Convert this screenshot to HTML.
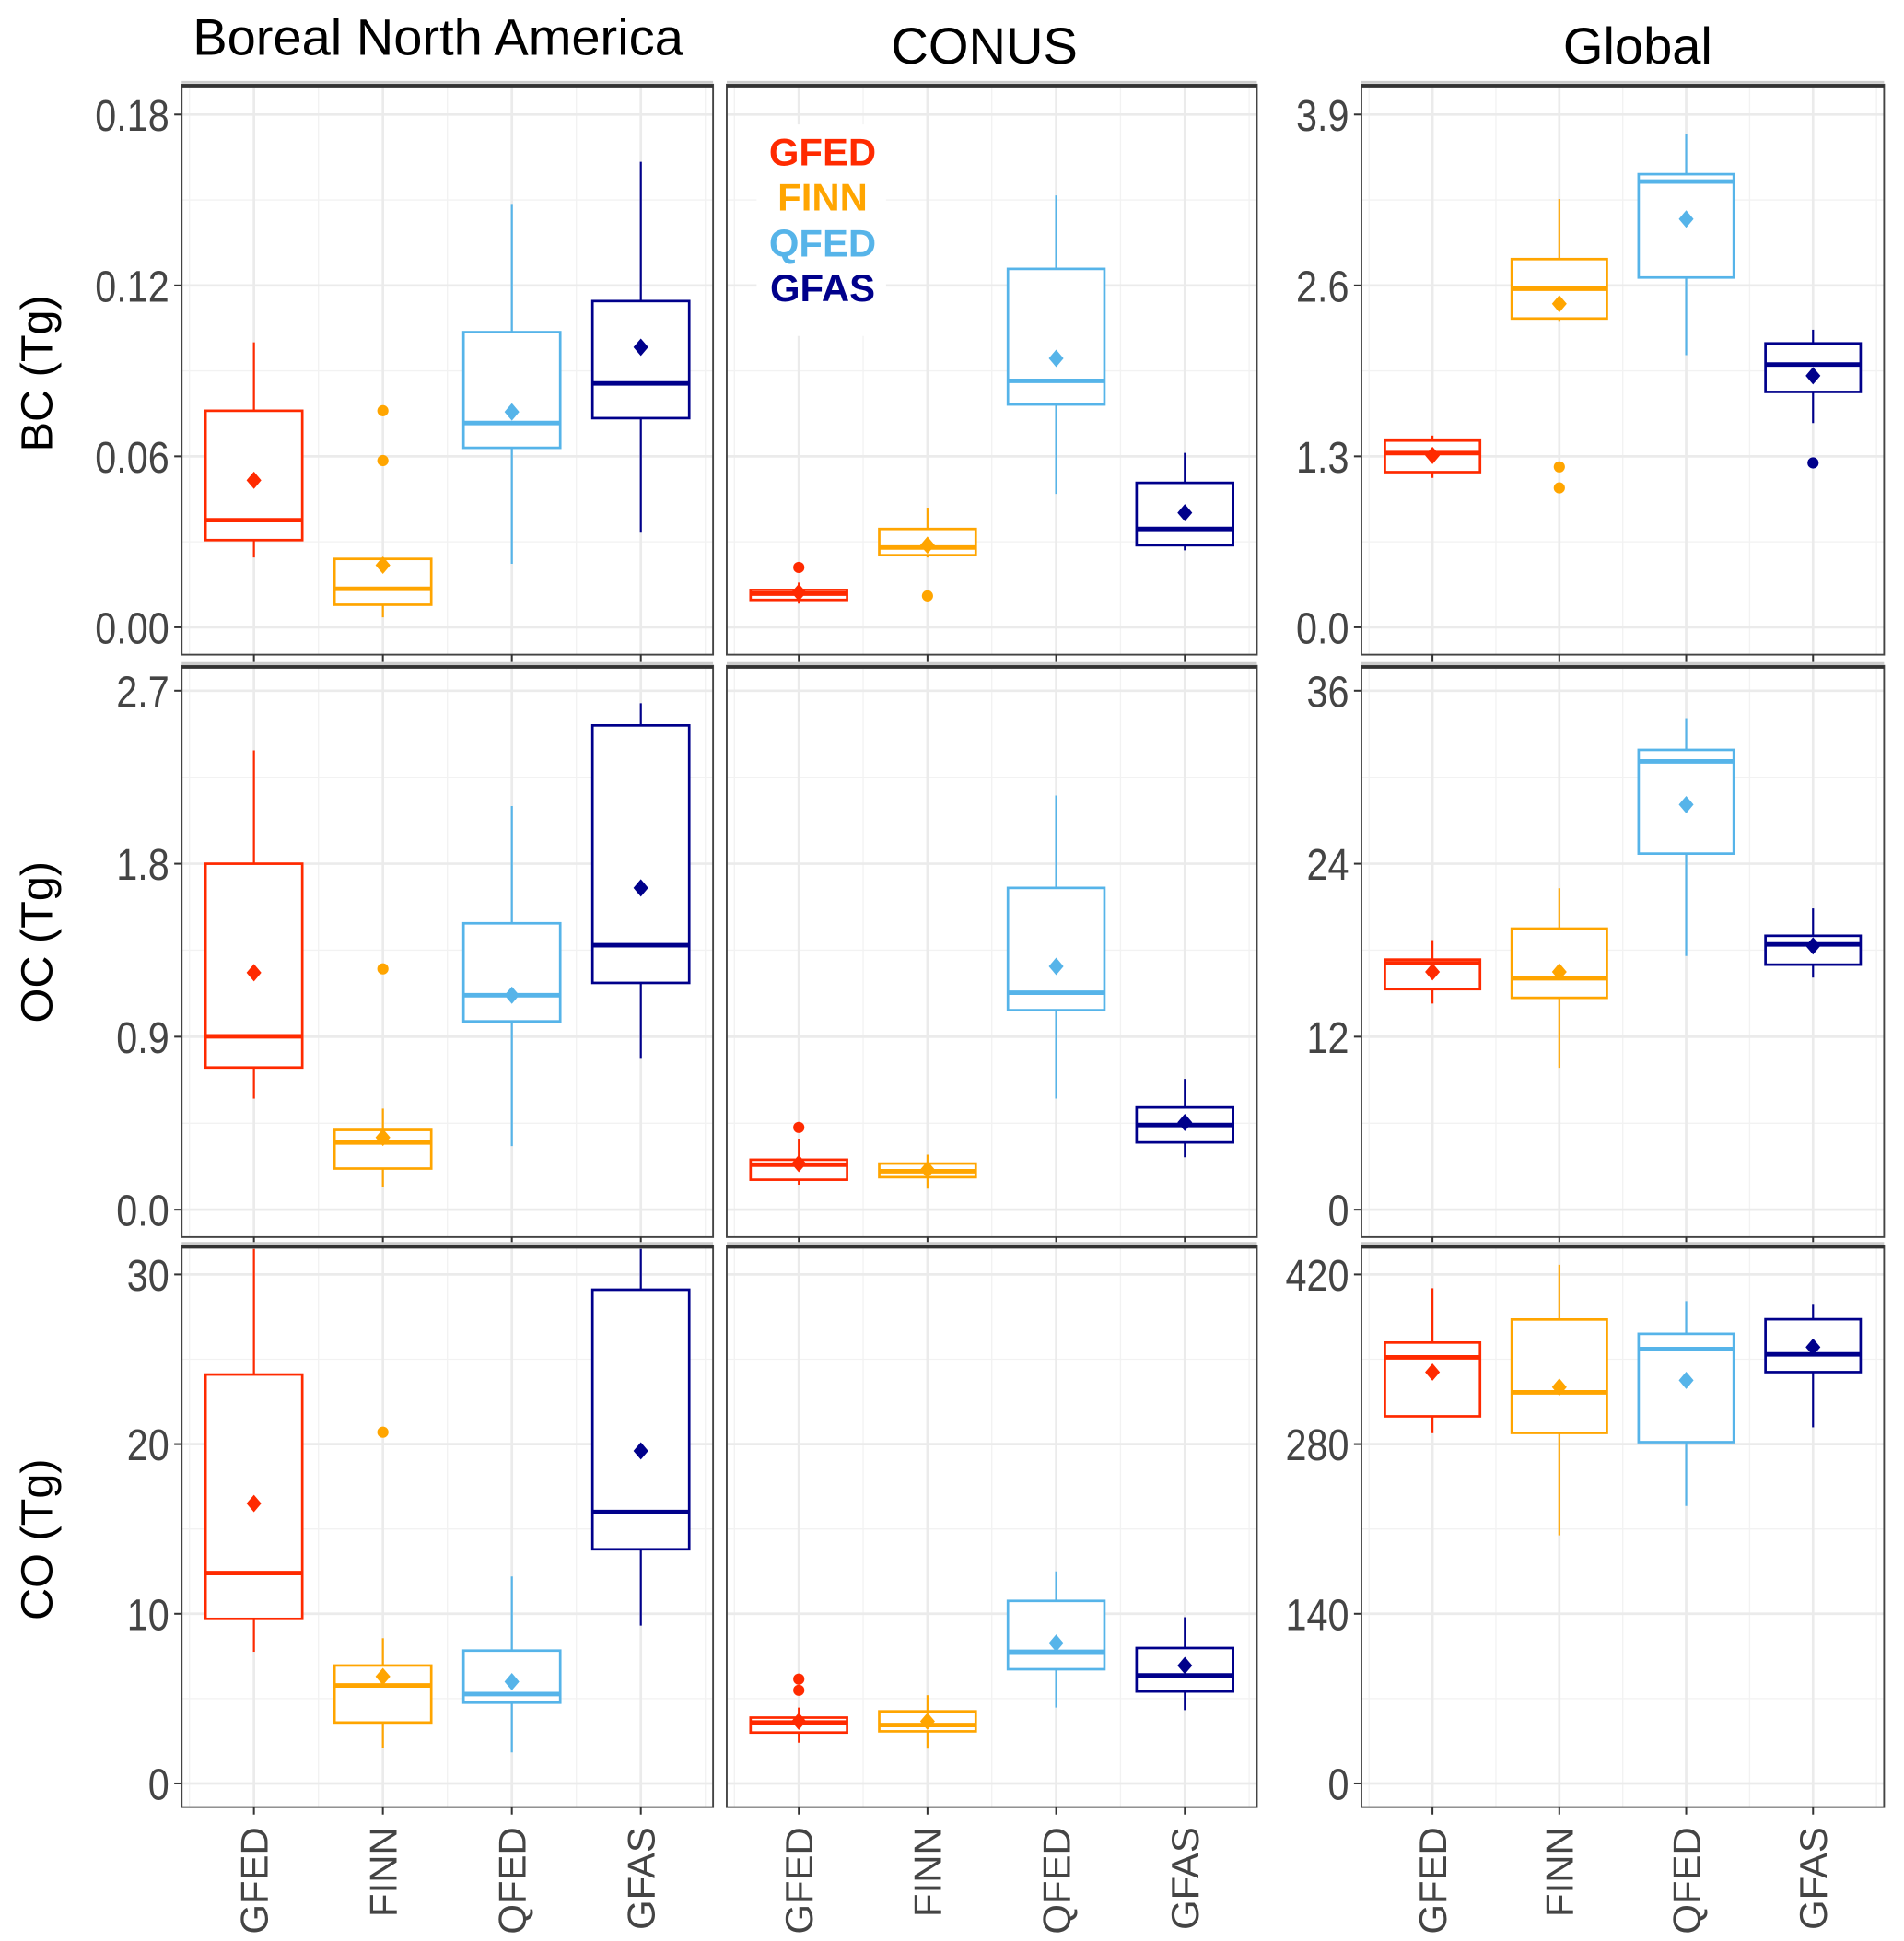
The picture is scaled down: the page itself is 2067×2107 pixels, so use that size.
<!DOCTYPE html>
<html><head><meta charset="utf-8"><style>
html,body{margin:0;padding:0;background:#fff;}
svg{display:block;}
text{font-family:"Liberation Sans",Arial,sans-serif;}
</style></head>
<body>
<svg id="chart" xmlns="http://www.w3.org/2000/svg" width="2067" height="2107" viewBox="0 0 1530 1559.6" preserveAspectRatio="none">
<text x="352" y="44" font-size="41.5" text-anchor="middle" fill="#000">Boreal North America</text>
<text x="791" y="51" font-size="41.5" text-anchor="middle" fill="#000">CONUS</text>
<text x="1316" y="51" font-size="41.5" text-anchor="middle" fill="#000">Global</text>
<text transform="translate(42,300) rotate(-90)" font-size="36" text-anchor="middle" fill="#000">BC (Tg)</text>
<text transform="translate(42,757) rotate(-90)" font-size="36" text-anchor="middle" fill="#000">OC (Tg)</text>
<text transform="translate(42,1237) rotate(-90)" font-size="36" text-anchor="middle" fill="#000">CO (Tg)</text>
</svg>
<script>
// categories & colors
const categories = ["GFED","FINN","QFED","GFAS"];
const colors = ["#ff2a00","#ffa500","#56b4e9","#00008b"];
// each stat row: [whiskerLow, q1, median, q3, whiskerHigh, mean]
const bcBna = [[0.0245,0.0306,0.0376,0.076,0.100,0.0516],[0.0035,0.0079,0.0135,0.024,0.0245,0.0218],[0.0223,0.063,0.0717,0.1036,0.1486,0.0756],[0.0332,0.0734,0.0856,0.1145,0.1634,0.0983]];
const bcBnaOut = [[],[0.076,0.0585],[],[]];
const bcConus = [[0.0083,0.0096,0.0118,0.0131,0.0157,0.0122],[0.0245,0.0253,0.028,0.0345,0.042,0.0288],[0.0468,0.0782,0.0865,0.1258,0.1516,0.0944],[0.027,0.0288,0.0345,0.0507,0.0612,0.0402]];
const bcConusOut = [[0.021],[0.011],[],[]];
const bcGlobal = [[1.136,1.18,1.325,1.42,1.458,1.307],[2.33,2.348,2.575,2.80,3.257,2.46],[2.07,2.66,3.39,3.446,3.75,3.105],[1.553,1.79,1.998,2.159,2.263,1.913]];
const bcGlobalOut = [[],[1.22,1.06],[],[1.25]];
const ocBna = [[0.578,0.74,0.902,1.80,2.39,1.233],[0.117,0.214,0.35,0.415,0.526,0.376],[0.331,0.98,1.116,1.49,2.10,1.116],[0.785,1.18,1.376,2.52,2.635,1.674]];
const ocBnaOut = [[],[1.253],[],[]];
const ocConus = [[0.13,0.156,0.234,0.26,0.37,0.24],[0.11,0.169,0.2,0.24,0.286,0.208],[0.578,1.038,1.129,1.674,2.155,1.266],[0.273,0.35,0.441,0.532,0.681,0.454]];
const ocConusOut = [[0.428],[],[],[]];
const ocGlobal = [[14.3,15.3,17.1,17.35,18.7,16.5],[9.84,14.7,16.05,19.5,22.3,16.5],[17.6,24.7,31.1,31.9,34.1,28.1],[16.1,17.0,18.4,19.0,20.9,18.3]];
const ocGlobalOut = [[],[],[],[]];
const coBna = [[7.76,9.7,12.4,24.1,31.5,16.5],[2.1,3.59,5.78,6.95,8.56,6.3],[1.83,4.76,5.27,7.83,12.2,6.0],[9.3,13.8,16.0,29.1,31.5,19.6]];
const coBnaOut = [[],[20.7],[],[]];
const coConus = [[2.4,3.0,3.59,3.88,4.47,3.66],[2.05,3.07,3.44,4.25,5.2,3.66],[4.47,6.73,7.76,10.76,12.5,8.27],[4.32,5.42,6.37,7.98,9.8,6.95]];
const coConusOut = [[6.15,5.49],[],[],[]];
const coGlobal = [[289,302.9,351.6,363.8,408.6,339.4],[204.7,289.2,322.7,382.8,428,327],[229,281.6,358.4,371,398,332.6],[293.8,339.4,354,383,395,360]];
const coGlobalOut = [[],[],[],[]];
// tick labels
const bcTicksBna = [0,0.06,0.12,0.18];
const bcTickLabelsBna = ["0.00","0.06","0.12","0.18"];
const bcTicksGlobal = [0,1.3,2.6,3.9];
const bcTickLabelsGlobal = ["0.0","1.3","2.6","3.9"];
const ocTicksBna = [0,0.9,1.8,2.7];
const ocTickLabelsBna = ["0.0","0.9","1.8","2.7"];
const ocTicksGlobal = [0,12,24,36];
const ocTickLabelsGlobal = ["0","12","24","36"];
const coTicksBna = [0,10,20,30];
const coTickLabelsBna = ["0","10","20","30"];
const coTicksGlobal = [0,140,280,420];
const coTickLabelsGlobal = ["0","140","280","420"];

const NS = "http://www.w3.org/2000/svg";
const svg = document.getElementById("chart");
function mk(tag, attrs, parent){const e=document.createElementNS(NS,tag);for(const k in attrs)e.setAttribute(k,attrs[k]);(parent||svg).appendChild(e);return e;}

const cols = [{l:146,r:573},{l:584,r:1010},{l:1094,r:1514}];
const rows = [{t:68,b:526,p0:504,p1:92},{t:535,b:994,p0:972,p1:555},{t:1001,b:1452,p0:1433,p1:1024}];
const panels = [
 {id:"bc-boreal",r:0,c:0,stats:bcBna,out:bcBnaOut,ticks:bcTicksBna,labs:bcTickLabelsBna,showY:true,legend:false},
 {id:"bc-conus",r:0,c:1,stats:bcConus,out:bcConusOut,ticks:bcTicksBna,labs:bcTickLabelsBna,showY:false,legend:true},
 {id:"bc-global",r:0,c:2,stats:bcGlobal,out:bcGlobalOut,ticks:bcTicksGlobal,labs:bcTickLabelsGlobal,showY:true,legend:false},
 {id:"oc-boreal",r:1,c:0,stats:ocBna,out:ocBnaOut,ticks:ocTicksBna,labs:ocTickLabelsBna,showY:true,legend:false},
 {id:"oc-conus",r:1,c:1,stats:ocConus,out:ocConusOut,ticks:ocTicksBna,labs:ocTickLabelsBna,showY:false,legend:false},
 {id:"oc-global",r:1,c:2,stats:ocGlobal,out:ocGlobalOut,ticks:ocTicksGlobal,labs:ocTickLabelsGlobal,showY:true,legend:false},
 {id:"co-boreal",r:2,c:0,stats:coBna,out:coBnaOut,ticks:coTicksBna,labs:coTickLabelsBna,showY:true,legend:false},
 {id:"co-conus",r:2,c:1,stats:coConus,out:coConusOut,ticks:coTicksBna,labs:coTickLabelsBna,showY:false,legend:false},
 {id:"co-global",r:2,c:2,stats:coGlobal,out:coGlobalOut,ticks:coTicksGlobal,labs:coTickLabelsGlobal,showY:true,legend:false}
];

panels.forEach(P=>{
 const C=cols[P.c], R=rows[P.r];
 const w=C.r-C.l;
 const step=w/4.12;
 const xs=i=>C.l+step*(0.56+i);
 const t0=P.ticks[0], t1=P.ticks[P.ticks.length-1];
 const ys=v=>R.p0+(v-t0)*(R.p1-R.p0)/(t1-t0);
 const g=mk("g",{});
 
 
 const cid="clip-"+P.id;
 const cp=mk("clipPath",{id:cid},g); mk("rect",{x:C.l,y:R.t,width:w,height:R.b-R.t},cp);
 mk("rect",{x:C.l,y:R.t,width:w,height:R.b-R.t,fill:"#fff"},g);
 const grid=mk("g",{"clip-path":"url(#"+cid+")"},g);
 for(let k=0;k<P.ticks.length+1;k++){
   const v=t0+(k-0.5)*(P.ticks[1]-P.ticks[0]);
   mk("line",{x1:C.l,x2:C.r,y1:ys(v),y2:ys(v),stroke:"#f2f2f2","stroke-width":1},grid);
 }
 for(let i=-1;i<4;i++){const x=xs(i+0.5);mk("line",{x1:x,x2:x,y1:R.t,y2:R.b,stroke:"#f2f2f2","stroke-width":1},grid);}
 P.ticks.forEach(v=>mk("line",{x1:C.l,x2:C.r,y1:ys(v),y2:ys(v),stroke:"#ebebeb","stroke-width":2},grid));
 for(let i=0;i<4;i++){const x=xs(i);mk("line",{x1:x,x2:x,y1:R.t,y2:R.b,stroke:"#ebebeb","stroke-width":2},grid);}
 if(P.legend){
   const names=["GFED","FINN","QFED","GFAS"], ly=[133,169,206,242];
   mk("rect",{x:608,y:100,width:104,height:170,fill:"#fff"},g);
   names.forEach((n,i)=>{const t=mk("text",{x:661,y:ly[i],"font-size":31,"font-weight":"bold","text-anchor":"middle",fill:colors[i]},g);t.textContent=n;
     
     });
 }
 const marks=mk("g",{"clip-path":"url(#"+cid+")"},g);
 P.stats.forEach((s,i)=>{
   const col=colors[i], x=xs(i), bw=step*0.75;
   const bg=mk("g",{},marks);
   
   
   mk("line",{x1:x,x2:x,y1:ys(s[0]),y2:ys(s[1]),stroke:col,"stroke-width":1.6},bg);
   mk("line",{x1:x,x2:x,y1:ys(s[3]),y2:ys(s[4]),stroke:col,"stroke-width":1.6},bg);
   mk("rect",{x:x-bw/2,y:ys(s[3]),width:bw,height:ys(s[1])-ys(s[3]),fill:"#fff",stroke:col,"stroke-width":2},bg);
   mk("line",{x1:x-bw/2,x2:x+bw/2,y1:ys(s[2]),y2:ys(s[2]),stroke:col,"stroke-width":3.6},bg);
   P.out[i].forEach(o=>{const c=mk("circle",{cx:x,cy:ys(o),r:4.5,fill:col},bg);
     
     });
   const my=ys(s[5]), d=7;
   const m=mk("polygon",{points:`${x},${my-d} ${x+d*0.85},${my} ${x},${my+d} ${x-d*0.85},${my}`,fill:col},bg);
   
   
 });
 mk("rect",{x:C.l,y:R.t,width:w,height:R.b-R.t,fill:"none",stroke:"#444","stroke-width":1.4},g);
 mk("line",{x1:C.l,x2:C.r,y1:R.t+1,y2:R.t+1,stroke:"#333","stroke-width":2.5},g);
 mk("line",{x1:C.l,x2:C.r,y1:R.t-2,y2:R.t-2,stroke:"#ccc","stroke-width":2},g);
 for(let i=0;i<4;i++){const x=xs(i);mk("line",{x1:x,x2:x,y1:R.b,y2:R.b+6,stroke:"#333","stroke-width":1.5},g);}
 if(P.r===2){
   categories.forEach((n,i)=>{const x=xs(i);const t=mk("text",{transform:`translate(${x+11},${R.b+16}) rotate(-90)`,"font-size":31,"text-anchor":"end",fill:"#444"},g);t.textContent=n;
     
     });
 }
 if(P.showY){
   P.ticks.forEach((v,k)=>{const y=ys(v);mk("line",{x1:C.l-6,x2:C.l,y1:y,y2:y,stroke:"#333","stroke-width":1.5},g);
     const ax=C.l-10;
     const t=mk("text",{x:ax,y:y+13,"font-size":36,"text-anchor":"end",fill:"#444",transform:`translate(${ax*0.15},0) scale(0.85,1)`},g);
     t.textContent=P.labs[k];
     
     });
 }
});
</script>
</body></html>
